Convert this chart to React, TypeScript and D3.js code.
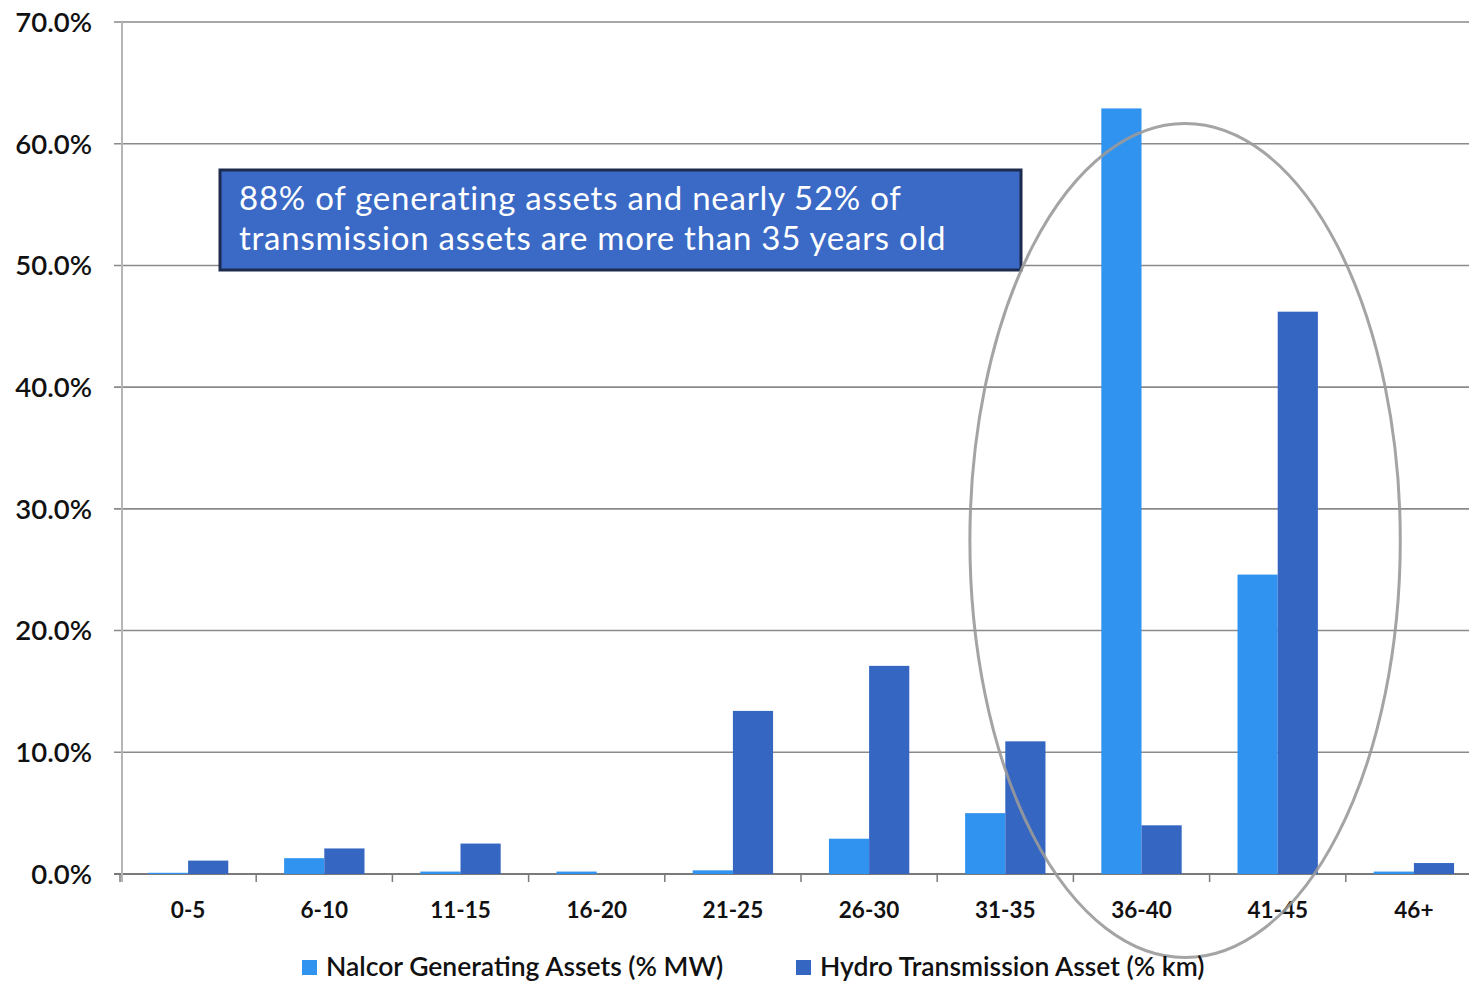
import React from "react";
import * as d3 from "d3";

// Asset age brackets (years)
const categories = ["0-5", "6-10", "11-15", "16-20", "21-25", "26-30", "31-35", "36-40", "41-45", "46+"];
// Share of Nalcor generating capacity (% MW) per bracket
const generating = [0.1, 1.3, 0.2, 0.2, 0.3, 2.9, 5.0, 62.9, 24.6, 0.2];
// Share of Hydro transmission line length (% km) per bracket
const transmission = [1.1, 2.1, 2.5, 0, 13.4, 17.1, 10.9, 4.0, 46.2, 0.9];
const seriesNames = ["Nalcor Generating Assets (% MW)", "Hydro Transmission Asset (% km)"];
const seriesColors = ["#2f93ef", "#3466c2"];
const yTicks = [0, 10, 20, 30, 40, 50, 60, 70];
const noteLines = [
  "88% of generating assets and nearly 52% of",
  "transmission assets are more than 35 years old",
];

const W = 1469;
const H = 982;
const FONT = "Lato, 'Open Sans', sans-serif";

export default function App() {
  const x0 = d3
    .scaleBand<string>()
    .domain(categories)
    .range([120, 1482])
    .paddingInner(0.41)
    .paddingOuter(0.205);
  const x1 = d3
    .scaleBand<number>()
    .domain([0, 1])
    .range([0, x0.bandwidth()]);
  const y = d3.scaleLinear().domain([0, 70]).range([874, 22]);

  const series = [generating, transmission];
  const step = x0.step();
  const boundaries = d3.range(categories.length + 1).map((i) => 120 + i * step);

  // Ellipse highlighting the oldest brackets
  const ellCx = (x0("36-40") as number) + x0.bandwidth() / 2 + step * 0.32;
  const ellCy = y(27.4);
  const ellRx = step * 1.58;
  const ellRy = 417;

  return (
    <svg
      width={W}
      height={H}
      style={{ position: "absolute", left: 0, top: 0, background: "#fff" }}
      fontFamily={FONT}
    >
      {/* horizontal gridlines */}
      {yTicks.map((t) => (
        <line
          key={"g" + t}
          x1={114}
          x2={W}
          y1={y(t)}
          y2={y(t)}
          stroke={t === 0 ? "#7a7a7a" : "#8a8a8a"}
          strokeWidth={t === 0 ? 2 : 1.6}
        />
      ))}
      {/* y axis line */}
      <line x1={122} x2={122} y1={y(70)} y2={y(0) + 8} stroke="#b5b5b5" strokeWidth={2} />
      {/* x tick marks */}
      {boundaries.map((bx, i) => (
        <line key={"t" + i} x1={bx} x2={bx} y1={y(0)} y2={y(0) + 8} stroke="#7a7a7a" strokeWidth={1.5} />
      ))}
      {/* y tick labels */}
      {yTicks.map((t) => (
        <text
          key={"yl" + t}
          x={92}
          y={y(t)}
          dy="0.36em"
          textAnchor="end"
          fontSize={27.5}
          fontWeight={600}
          fill="#111"
        >
          {t.toFixed(1) + "%"}
        </text>
      ))}
      {/* bars */}
      {categories.map((c, ci) =>
        series.map((s, si) =>
          s[ci] > 0 ? (
            <rect
              key={c + si}
              x={(x0(c) as number) + (x1(si) as number)}
              y={y(s[ci])}
              width={x1.bandwidth()}
              height={y(0) - y(s[ci])}
              fill={seriesColors[si]}
            />
          ) : null
        )
      )}
      {/* x category labels */}
      {categories.map((c) => (
        <text
          key={"xl" + c}
          x={(x0(c) as number) + x0.bandwidth() / 2}
          y={918}
          textAnchor="middle"
          fontSize={22.5}
          fontWeight={700}
          fill="#111"
        >
          {c}
        </text>
      ))}
      {/* callout box */}
      <rect x={220} y={170} width={801} height={100} fill="#3a69c6" stroke="#1d2b4f" strokeWidth={3} />
      {noteLines.map((ln, i) => (
        <text key={"n" + i} x={239} y={210 + i * 40} fontSize={33} letterSpacing={0.75} fill="#fff">
          {ln}
        </text>
      ))}
      {/* highlight ellipse */}
      <ellipse
        cx={ellCx}
        cy={ellCy}
        rx={ellRx}
        ry={ellRy}
        fill="none"
        stroke="#9a9a9a"
        strokeOpacity={0.9}
        strokeWidth={3}
      />
      {/* legend */}
      {seriesNames.map((n, i) => {
        const lx = i === 0 ? 302 : 796;
        return (
          <g key={"lg" + i}>
            <rect x={lx} y={960} width={15} height={15} fill={seriesColors[i]} />
            <text x={lx + 24} y={976} fontSize={26.5} fontWeight={600} fill="#111">
              {n}
            </text>
          </g>
        );
      })}
    </svg>
  );
}
